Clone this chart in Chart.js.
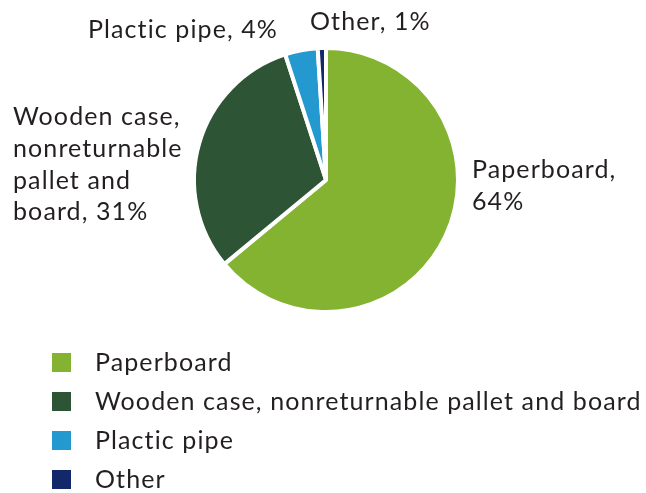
<!DOCTYPE html>
<html lang="en">
<head>
  <meta charset="UTF-8">
  <title>Packaging materials</title>
  <script src="https://cdn.jsdelivr.net/npm/chart.js"></script>
  <style>
    html, body { margin: 0; padding: 0; background: #ffffff; }
    #wrap { position: relative; width: 646px; height: 493px; }
  </style>
</head>
<body>
  <div id="wrap"><canvas id="pieChart" width="646" height="493"></canvas></div>
  <script>
    const categories = ["Paperboard", "Wooden case, nonreturnable pallet and board", "Plactic pipe", "Other"];
    const shares = [64, 31, 4, 1];
    const sliceLabels = [
      ["Paperboard,", "64%"],
      ["Wooden case,", "nonreturnable", "pallet and", "board, 31%"],
      ["Plactic pipe, 4%"],
      ["Other, 1%"]
    ];
    const colors = ["#84b331", "#2d5535", "#2399d0", "#13286a"];

    const FONT = "25px Lato, 'Noto Sans', sans-serif";
    const TEXT = "#231f20";

    // where each slice label starts (left x, first baseline), relative to the pie centre
    const labelAnchors = [
      { dx: 146, dy: -2 },
      { dx: -313, dy: -55 },
      { dx: -238, dy: -142 },
      { dx: -16, dy: -150 }
    ];

    const labelPlugin = {
      id: "sliceLabels",
      afterDraw(chart) {
        const ctx = chart.ctx;
        const arcs = chart.getDatasetMeta(0).data;
        ctx.save();
        ctx.font = FONT;
        ctx.letterSpacing = "1.1px";
        ctx.fillStyle = TEXT;
        ctx.textAlign = "left";
        ctx.textBaseline = "alphabetic";
        arcs.forEach((arc, i) => {
          const a = labelAnchors[i];
          sliceLabels[i].forEach((line, j) => {
            ctx.fillText(line, arc.x + a.dx, arc.y + a.dy + j * 31.8);
          });
        });

        // legend list under the pie
        categories.forEach((name, i) => {
          const base = 371 + i * 39;
          ctx.fillStyle = colors[i];
          ctx.fillRect(52, base - 18, 19, 19);
          ctx.fillStyle = TEXT;
          ctx.fillText(name, 95, base);
        });
        ctx.restore();
      }
    };

    new Chart(document.getElementById("pieChart"), {
      type: "pie",
      data: {
        labels: categories,
        datasets: [{
          data: shares,
          backgroundColor: colors,
          borderColor: "#ffffff",
          borderWidth: 4
        }]
      },
      options: {
        responsive: false,
        animation: false,
        layout: { padding: { top: 46, bottom: 179, left: 192, right: 186 } },
        plugins: {
          legend: { display: false },
          tooltip: { enabled: false }
        }
      },
      plugins: [labelPlugin]
    });
  </script>
</body>
</html>
